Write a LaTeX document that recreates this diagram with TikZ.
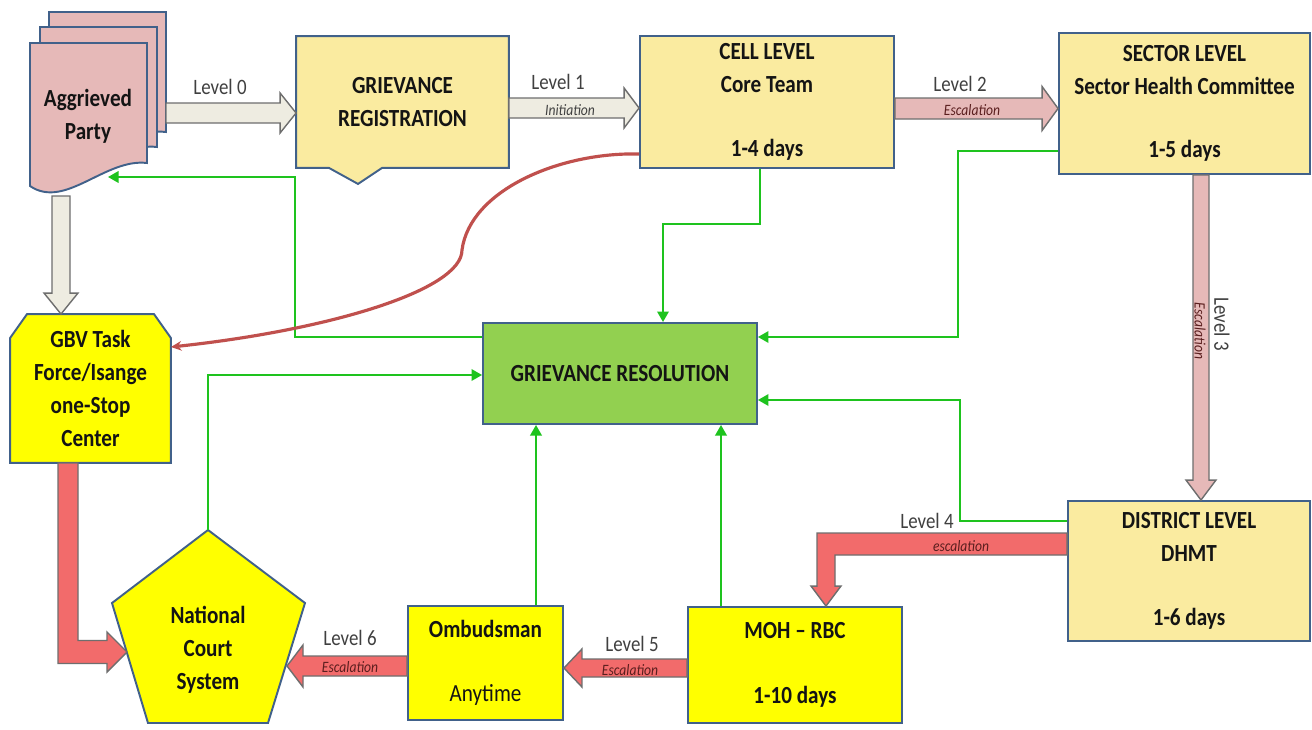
\documentclass[tikz,border=0pt]{standalone}
\usepackage{fontspec}
\setmainfont{Carlito}[FakeStretch=0.86]
\usetikzlibrary{calc,arrows.meta,backgrounds}
\definecolor{bord}{HTML}{41618A}
\definecolor{paleY}{HTML}{FAEBA0}
\definecolor{brightY}{HTML}{FFFF00}
\definecolor{pinkF}{HTML}{E6B9B8}
\definecolor{greyF}{HTML}{EEECE1}
\definecolor{redF}{HTML}{F26B6B}
\definecolor{greenF}{HTML}{92D050}
\definecolor{glineC}{HTML}{1EC31E}
\definecolor{curveC}{HTML}{C0504D}
\definecolor{arrB}{HTML}{6E6E6E}
\definecolor{txt}{HTML}{141414}
\definecolor{lvlC}{HTML}{404040}
\definecolor{escC}{HTML}{5A1E1E}
\newcommand\bxf{\fontsize{14}{18.7}\selectfont\bfseries}
\newcommand\lvf{\fontsize{12.5}{14}\selectfont}
\newcommand\esf{\fontsize{9}{10}\selectfont\itshape}
% horizontal block arrow: style, from, to, half shaft, half head, head length (signed)
\newcommand\blkH[6]{\draw[#1] ($(#2)+(0,{-(#4)})$) -- ($(#3)+({-(#6)},{-(#4)})$) -- ($(#3)+({-(#6)},{-(#5)})$) -- (#3) -- ($(#3)+({-(#6)},{#5})$) -- ($(#3)+({-(#6)},{#4})$) -- ($(#2)+(0,{#4})$) -- cycle;}
% downward block arrow
\newcommand\blkV[6]{\draw[#1] ($(#2)+({-(#4)},0)$) -- ($(#3)+({-(#4)},{-(#6)})$) -- ($(#3)+({-(#5)},{-(#6)})$) -- (#3) -- ($(#3)+({#5},{-(#6)})$) -- ($(#3)+({#4},{-(#6)})$) -- ($(#2)+({#4},0)$) -- cycle;}
\begin{document}
\begin{tikzpicture}[x=0.02cm,y=-0.02cm,
  box/.style={draw=bord, line width=1.1pt, fill=paleY, inner sep=0pt, align=center, font=\bxf, text=txt},
  ybox/.style={box, fill=brightY},
  shapeline/.style={draw=bord, line width=1.1pt},
  lvl/.style={font=\lvf, text=lvlC, inner sep=0pt},
  esc/.style={font=\esf, text=escC, inner sep=0pt},
  garr/.style={draw=arrB, line width=0.8pt, fill=greyF},
  parr/.style={garr, fill=pinkF},
  rarr/.style={garr, fill=redF},
  gline/.style={draw=glineC, line width=1.2pt, -{Triangle[length=6pt,width=6.5pt]}},
  rcurve/.style={draw=curveC, line width=1.8pt, -{Stealth[length=6pt,width=5.5pt]}}
]
\useasboundingbox (0,0) rectangle (1312,730);

% Aggrieved party (multi-document)
\draw[shapeline, fill=pinkF] (49,12) -- (166,12) -- (166,132) .. controls (124,127) and (84,179) .. (49,155) -- cycle;
\draw[shapeline, fill=pinkF] (40,27) -- (157,27) -- (157,147) .. controls (115,142) and (75,194) .. (40,170) -- cycle;
\draw[shapeline, fill=pinkF] (30,43) -- (147,43) -- (147,163) .. controls (105,158) and (65,210) .. (30,186) -- cycle;
\node[font=\bxf, align=center, text=txt, inner sep=0pt] (agg) at (88,116) {Aggrieved\\Party};
\coordinate (aggR) at (166,113);
\coordinate (aggB) at (61,196);
\coordinate (aggG) at (108,177);

% boxes
\node[box, draw=none, fill=none, minimum width=4.22cm, minimum height=2.6cm] (reg) at (402.5,102) {GRIEVANCE\\REGISTRATION};
\node[box, minimum width=5.08cm, minimum height=2.64cm] (cell) at (767,102) {CELL LEVEL\\Core Team\\[17.6pt]1-4 days};
\node[box, minimum width=5.02cm, minimum height=2.82cm] (sector) at (1184.5,103.5) {SECTOR LEVEL\\Sector Health Committee\\[17.6pt]1-5 days};
\node[box, minimum width=4.84cm, minimum height=2.8cm] (district) at (1189,571) {DISTRICT LEVEL\\DHMT\\[18pt]1-6 days};
\node[ybox, minimum width=4.28cm, minimum height=2.32cm] (moh) at (795,665) {MOH -- RBC\\[18pt]1-10 days};
\node[ybox, minimum width=3.1cm, minimum height=2.28cm] (omb) at (485.5,663) {Ombudsman\\[18pt]{\mdseries Anytime}};
\node[box, fill=greenF, minimum width=5.48cm, minimum height=2.02cm] (gr) at (620,373.5) {GRIEVANCE RESOLUTION};
\node[ybox, draw=none, fill=none, minimum width=3.18cm, minimum height=2.94cm] (gbv) at (90.5,388.5) {GBV Task\\Force/Isange\\one-Stop\\Center};

% National court (pentagon)
\coordinate (cT) at (208,530);
\coordinate (cUR) at (305,603);
\coordinate (cBR) at (268,723);
\coordinate (cBL) at (148,723);
\coordinate (cUL) at (112,603);
\draw[shapeline, fill=brightY] (cT) -- (cUR) -- (cBR) -- (cBL) -- (cUL) -- cycle;
\node[font=\bxf, align=center, text=txt, inner sep=0pt] (court) at (208,650) {National\\Court\\System};
\coordinate (cL) at (127,652);
\coordinate (cR) at (287,666);

\begin{scope}[on background layer]
\fill[white] (0,0) rectangle (1312,730);
\draw[shapeline, fill=paleY] (reg.north west) -- (reg.north east) -- (reg.south east) -- ($(reg.south west)+(86,0)$) -- ($(reg.south west)+(62,16)$) -- ($(reg.south west)+(33,0)$) -- (reg.south west) -- cycle;
\draw[shapeline, fill=brightY] ($(gbv.north west)+(0,24)$) -- ($(gbv.north west)+(17,0)$) -- ($(gbv.north east)+(-17,0)$) -- ($(gbv.north east)+(0,24)$) -- (gbv.south east) -- (gbv.south west) -- cycle;
\end{scope}

% block arrows
\coordinate (l0e) at (reg.west |- aggR);
\blkH{garr}{aggR}{l0e}{10}{20}{16}
\coordinate (l1s) at (reg.east |- 0,108);
\coordinate (l1e) at (cell.west |- 0,108);
\blkH{garr}{l1s}{l1e}{10}{20}{15}
\coordinate (l2s) at (cell.east |- 0,108.5);
\coordinate (l2e) at (sector.west |- 0,108.5);
\blkH{parr}{l2s}{l2e}{10.5}{22}{16}
\coordinate (l3s) at (sector.south -| 1201,0);
\coordinate (l3e) at (district.north -| 1201,0);
\blkV{parr}{l3s}{l3e}{8}{15}{20}
\coordinate (l5s) at (moh.west |- 0,668);
\coordinate (l5e) at (omb.east |- 0,668);
\blkH{rarr}{l5s}{l5e}{9}{19}{-18}
\coordinate (l6s) at (omb.west |- 0,666);
\blkH{rarr}{l6s}{cR}{10}{21}{-16}
\coordinate (l7e) at (gbv.north -| aggB);
\blkV{garr}{aggB}{l7e}{9}{17}{21}
% GBV -> court (bent)
\coordinate (gs) at (gbv.south -| 68,0);
\draw[rarr] ($(gs)+(-10,0)$) -- ($(gs |- cL)+(-10,11.5)$) -- ($(cL)+(-20,11.5)$) -- ($(cL)+(-20,20)$) -- (cL) -- ($(cL)+(-20,-20)$) -- ($(cL)+(-20,-11.5)$) -- ($(gs |- cL)+(10,-11.5)$) -- ($(gs)+(10,0)$) -- cycle;
% District -> MOH (bent)
\coordinate (l4s) at (district.west |- 0,544);
\coordinate (l4e) at (moh.north -| 826,0);
\draw[rarr] ($(l4s)+(0,-11)$) -- ($(l4e |- l4s)+(-9,-11)$) -- ($(l4e)+(-9,-20)$) -- ($(l4e)+(-15,-20)$) -- (l4e) -- ($(l4e)+(15,-20)$) -- ($(l4e)+(9,-20)$) -- ($(l4e |- l4s)+(9,11)$) -- ($(l4s)+(0,11)$) -- cycle;

% labels
\node[lvl] (t0) at (220,87) {Level 0};
\node[lvl] (t1) at (558,82) {Level 1};
\node[esc, text=lvlC] (i1) at (570,110) {Initiation};
\node[lvl] (t2) at (960,84) {Level 2};
\node[esc] (e2) at (972,110) {Escalation};
\node[lvl, rotate=-90] (t3) at (1222,324) {Level 3};
\node[esc, rotate=-90] (e3) at (1200,331) {Escalation};
\node[lvl] (t4) at (927,521) {Level 4};
\node[esc] (e4) at (961,546) {escalation};
\node[lvl] (t5) at (632,644) {Level 5};
\node[esc] (e5) at (630,670) {Escalation};
\node[lvl] (t6) at (350,638) {Level 6};
\node[esc] (e6) at (350,667) {Escalation};

% green connectors to resolution
\draw[gline] (cell.south -| 760,0) -- ++(0,55) -| (gr.north -| 663,0);
\draw[gline] (sector.west |- 0,151) -| (958,337) -- (gr.east |- 0,337);
\draw[gline] (district.west |- 0,521) -| (960,400) -- (gr.east |- 0,400);
\draw[gline] (moh.north -| 721,0) -- (gr.south -| 721,0);
\draw[gline] (omb.north -| 536,0) -- (gr.south -| 536,0);
\draw[gline] (cT) |- (gr.west |- 0,375);
\draw[gline] (gr.west |- 0,337) -| (295,177) -- (aggG);

% red curve cell -> GBV
\draw[rcurve] (cell.west |- 0,154) .. controls (560,152) and (470,190) .. (462,250) .. controls (462,290) and (330,330) .. (gbv.east |- 0,347);
\end{tikzpicture}
\end{document}
